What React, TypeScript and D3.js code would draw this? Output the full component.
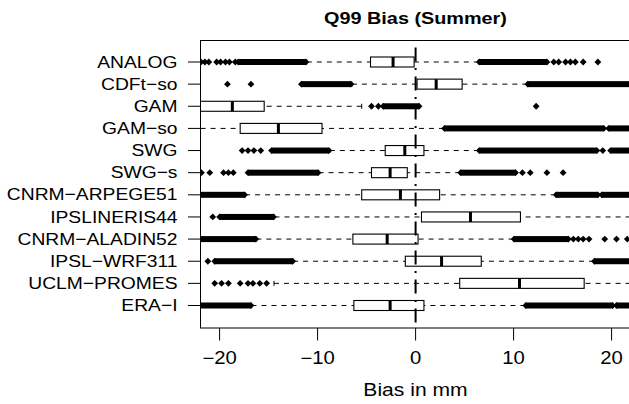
import * as d3 from "d3";

const models = [
  "ANALOG",
  "CDFt−so",
  "GAM",
  "GAM−so",
  "SWG",
  "SWG−s",
  "CNRM−ARPEGE51",
  "IPSLINERIS44",
  "CNRM−ALADIN52",
  "IPSL−WRF311",
  "UCLM−PROMES",
  "ERA−I",
];

// five-number summaries (mm)
const lowerWhisker = [-11.1, -6.5, -25, -25, -8.75, -9.9, -17.4, -14.4, -16.25, -12.5, -14.45, -16.75];
const firstQuartile = [-4.6, 0.15, -22.3, -17.9, -3.1, -4.5, -5.5, 0.6, -6.4, -1.05, 4.5, -6.3];
const medians = [-2.3, 2.1, -18.7, -14.0, -1.1, -2.6, -1.55, 5.6, -2.9, 2.65, 10.6, -2.6];
const thirdQuartile = [-0.15, 4.75, -15.45, -9.55, 0.85, -0.85, 2.45, 10.7, 0.25, 6.7, 17.2, 0.85];
const upperWhisker = [6.45, 11.4, -5.5, 2.9, 6.45, 4.55, 14.3, 25, 10.0, 18.2, 25, 11.2];

// runs of outliers so dense they merge into a bar: [from, to]
const outlierBands = [
  [[-18.1, -11.2], [6.5, 13.4]],
  [[-11.65, -6.6], [11.45, 25]],
  [[-3.3, 0.35]],
  [[2.95, 19.2], [19.7, 25]],
  [[-14.7, -8.85], [6.5, 18.5], [19.9, 25]],
  [[-17.1, -9.95], [4.6, 10.2]],
  [[-25, -17.45], [14.35, 18.6], [19.0, 25]],
  [[-20.0, -14.5]],
  [[-25, -16.3], [10.05, 15.6]],
  [[-20.5, -12.55], [18.25, 25]],
  [],
  [[-25, -16.8], [11.25, 20.1], [20.5, 25]],
];

// single outliers that stand apart
const outlierPoints = [
  [-21.9, -21.5, -21.1, -20.3, -19.9, -19.4, -19.0, -18.4, 14.1, 14.6, 15.3, 15.8, 16.3, 17.1, 18.6],
  [-19.2, -16.8],
  [-4.5, -3.8, 12.3],
  [],
  [-17.7, -17.1, -16.5, -15.8, 19.1],
  [-21.85, -21.0, -19.6, -19.1, -18.6, 10.9, 11.7, 13.4, 15.05],
  [],
  [-20.7],
  [16.1, 16.6, 17.1, 17.7, 19.3, 20.5, 21.6],
  [-21.2],
  [-20.5, -19.8, -19.1, -17.9, -17.1, -16.6, -15.9, -15.2],
  [],
];

const xTicks = [-20, -10, 0, 10, 20];

const FONT = '"Liberation Sans", Arial, Helvetica, sans-serif';
const STRETCH = 1.14;

function diamond(cx: number, cy: number, r = 3.4) {
  return `M${cx - r},${cy}L${cx},${cy - r}L${cx + r},${cy}L${cx},${cy + r}Z`;
}

function Label(props: { x: number; y: number; size: number; anchor: string; bold?: boolean; children: string }) {
  return (
    <text
      transform={`translate(${props.x},${props.y}) scale(${STRETCH},1)`}
      textAnchor={props.anchor}
      fontFamily={FONT}
      fontSize={props.size}
      fontWeight={props.bold ? "bold" : "normal"}
      fill="#000"
    >
      {props.children}
    </text>
  );
}

export default function App() {
  const width = 629;
  const height = 404;
  const plotLeft = 200;
  const plotTop = 40;
  const plotBottom = 328;
  const plotRight = 631.2;

  const x = d3.scaleLinear().domain([-22, 22]).range([plotLeft, plotRight]);
  const y = d3.scalePoint().domain(models).range([62, 305.5]);
  const half = 5;

  return (
    <svg
      width={width}
      height={height}
      viewBox={`0 0 ${width} ${height}`}
      style={{ position: "absolute", left: 0, top: 0, background: "#fff" }}
    >
      <defs>
        <clipPath id="plotClip">
          <rect x={plotLeft} y={plotTop} width={plotRight - plotLeft} height={plotBottom - plotTop} />
        </clipPath>
      </defs>

      <Label x={415.5} y={24} size={17.4} anchor="middle" bold>
        Q99 Bias (Summer)
      </Label>

      <g clipPath="url(#plotClip)">
        {models.map((m, i) => {
          const cy = y(m) ?? 0;
          const lo = x(lowerWhisker[i]);
          const hi = x(upperWhisker[i]);
          const b1 = x(firstQuartile[i]);
          const b3 = x(thirdQuartile[i]);
          const md = x(medians[i]);
          return (
            <g key={m}>
              <line x1={lo} x2={b1} y1={cy} y2={cy} stroke="#000" strokeWidth={1} strokeDasharray="5 5" />
              <line x1={hi} x2={b3} y1={cy} y2={cy} stroke="#000" strokeWidth={1} strokeDasharray="5 5" />
              <line x1={lo} x2={lo} y1={cy - 2.5} y2={cy + 2.5} stroke="#000" strokeWidth={1} />
              <line x1={hi} x2={hi} y1={cy - 2.5} y2={cy + 2.5} stroke="#000" strokeWidth={1} />
              <rect x={b1} y={cy - half} width={b3 - b1} height={half * 2} fill="#fff" stroke="#000" strokeWidth={1.1} />
              <line x1={md} x2={md} y1={cy - half} y2={cy + half} stroke="#000" strokeWidth={3} />
              {outlierBands[i].map(([a, b], k) => (
                <g key={k}>
                  <rect x={x(a)} y={cy - 3} width={x(b) - x(a)} height={6} fill="#000" />
                  <path d={diamond(x(a), cy)} fill="#000" />
                  <path d={diamond(x(b), cy)} fill="#000" />
                </g>
              ))}
              {outlierPoints[i].map((v, k) => (
                <path key={k} d={diamond(x(v), cy)} fill="#000" />
              ))}
            </g>
          );
        })}

        <line
          x1={x(0)}
          x2={x(0)}
          y1={plotTop}
          y2={plotBottom}
          stroke="#000"
          strokeWidth={2}
          strokeDasharray="14 6.5 2 6.5"
          strokeDashoffset={21.5}
        />
      </g>

      <rect
        x={plotLeft + 0.5}
        y={plotTop + 0.5}
        width={plotRight - plotLeft}
        height={plotBottom - plotTop - 0.5}
        fill="none"
        stroke="#000"
        strokeWidth={1}
      />

      {models.map((m) => {
        const cy = y(m) ?? 0;
        return (
          <g key={m}>
            <line x1={plotLeft - 12} x2={plotLeft} y1={cy} y2={cy} stroke="#000" strokeWidth={1} />
            <Label x={177.5} y={cy + 5.6} size={16.9} anchor="end">
              {m}
            </Label>
          </g>
        );
      })}

      {xTicks.map((t) => (
        <g key={t}>
          <line x1={x(t)} x2={x(t)} y1={plotBottom} y2={plotBottom + 12.5} stroke="#000" strokeWidth={1} />
          <Label x={x(t)} y={364} size={17.8} anchor="middle">
            {t < 0 ? `−${Math.abs(t)}` : `${t}`}
          </Label>
        </g>
      ))}

      <Label x={415.5} y={396} size={18.5} anchor="middle">
        Bias in mm
      </Label>
    </svg>
  );
}
